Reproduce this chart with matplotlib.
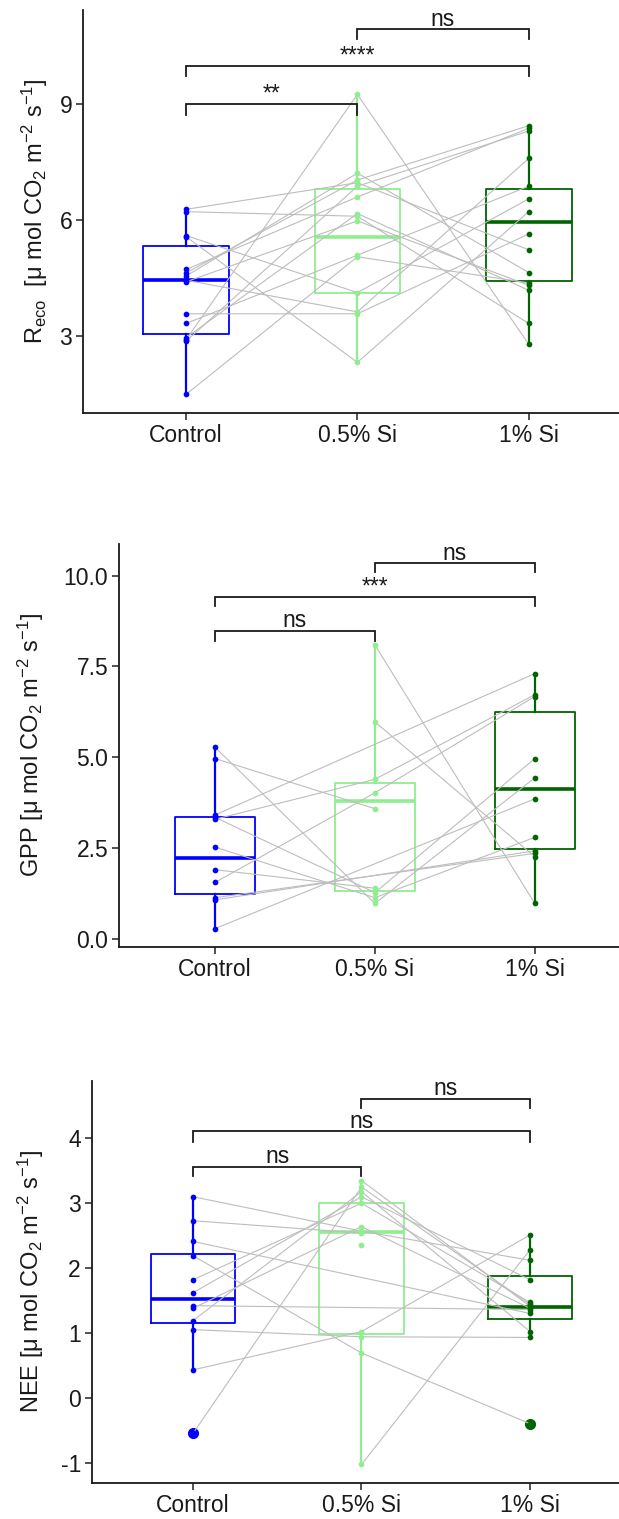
import numpy as np
import matplotlib
matplotlib.use('Agg')
import matplotlib.pyplot as plt
import matplotlib.transforms as mtransforms

plt.rcParams['font.family'] = ['Liberation Sans', 'DejaVu Sans']
plt.rcParams['mathtext.fontset'] = 'custom'
plt.rcParams['mathtext.rm'] = 'Liberation Sans'
plt.rcParams['mathtext.it'] = 'Liberation Sans:italic'
plt.rcParams['mathtext.bf'] = 'Liberation Sans:bold'

nan = np.nan
groups = ['Control', '0.5% Si', '1% Si']
group_colors = ['#0000FF', '#90EE90', '#006400']

# ---------------- Reco (paired subjects) ----------------
reco_control = [6.28, 6.22, 5.60, 5.57, 4.72, 4.63, 4.55, 4.44, 4.40, 3.57, 3.32, 2.95, 2.90, 2.86, 1.48]
reco_si05 = [6.97, 6.10, 4.12, 2.31, 6.60, 7.04, 7.22, 3.62, 5.98, 3.57, 5.09, 6.17, 9.26, 6.88, 5.05]
reco_si1 = [5.23, 3.32, 6.55, 6.22, 8.38, 8.45, 4.64, 7.60, 4.31, 5.64, 6.88, 4.18, 2.78, 8.31, 4.37]
reco_q1 = [3.05, 4.12, 4.42]
reco_med = [4.44, 5.56, 5.94]
reco_q3 = [5.33, 6.80, 6.80]
reco_ticks = [3, 6, 9]
reco_tick_labels = ['3', '6', '9']
reco_signif = ['**', '****', 'ns']

# ---------------- GPP ----------------
gpp_control = [5.27, 4.96, 3.41, 3.34, 3.29, 2.52, 1.90, 1.55, 1.13, 1.07, 0.28, nan, nan]
gpp_si05 = [0.97, 3.58, nan, 1.27, 4.39, 1.13, 1.39, 4.02, nan, nan, nan, 8.09, 5.97]
gpp_si1 = [4.43, nan, 7.30, 4.96, 6.72, 2.79, nan, 6.67, 2.35, 2.42, 3.85, 0.97, 2.26]
gpp_q1 = [1.22, 1.31, 2.46]
gpp_med = [2.21, 3.80, 4.12]
gpp_q3 = [3.34, 4.28, 6.23]
gpp_ticks = [0.0, 2.5, 5.0, 7.5, 10.0]
gpp_tick_labels = ['0.0', '2.5', '5.0', '7.5', '10.0']
gpp_signif = ['ns', '***', 'ns']

# ---------------- NEE ----------------
nee_control = [3.10, 2.73, 2.41, 2.19, 1.82, 1.62, 1.42, 1.38, 1.19, 1.05, 0.43, -0.55, nan, nan, nan]
nee_si05 = [2.57, 2.54, nan, 0.69, 3.00, 3.10, nan, 2.64, 3.18, 0.94, 1.02, 3.25, -1.03, 3.35, 2.36]
nee_si1 = [2.12, nan, 1.30, -0.40, 1.47, 1.82, 1.36, 1.38, 1.02, 0.93, 2.51, 1.44, 2.28, 1.41, nan]
nee_q1 = [1.16, 0.98, 1.21]
nee_med = [1.52, 2.56, 1.40]
nee_q3 = [2.22, 3.01, 1.87]
nee_ticks = [-1, 0, 1, 2, 3, 4]
nee_tick_labels = ['-1', '0', '1', '2', '3', '4']
nee_signif = ['ns', 'ns', 'ns']

# comparison pairs (group positions)
pairs = [(1, 2), (1, 3), (2, 3)]

W, H = 619, 1519
fig = plt.figure(figsize=(W / 100, H / 100), dpi=100)


def add_axes(left, top, bottom, right):
    return fig.add_axes([left / W, 1 - bottom / H, (right - left) / W, (bottom - top) / H])


panels = [
    dict(data=[reco_control, reco_si05, reco_si1], q1=reco_q1, med=reco_med, q3=reco_q3,
         ticks=reco_ticks, tl=reco_tick_labels, sig=reco_signif,
         ylabel=r'R$_{\mathrm{eco}}$  [$\mathrm{\mu}$ mol CO$_2$ m$^{-2}$ s$^{-1}$]',
         box=(83.3, 10, 412.5, 631.5), ylim=(1.01, 11.45),
         brackets=[(9.0, 8.72), (10.0, 9.73), (10.95, 10.71)], ylabx=35),
    dict(data=[gpp_control, gpp_si05, gpp_si1], q1=gpp_q1, med=gpp_med, q3=gpp_q3,
         ticks=gpp_ticks, tl=gpp_tick_labels, sig=gpp_signif,
         ylabel=r'GPP [$\mathrm{\mu}$ mol CO$_2$ m$^{-2}$ s$^{-1}$]',
         box=(119.3, 544, 946.7, 630.6), ylim=(-0.22, 10.87),
         brackets=[(8.48, 8.21), (9.40, 9.16), (10.34, 10.09)], ylabx=31),
    dict(data=[nee_control, nee_si05, nee_si1], q1=nee_q1, med=nee_med, q3=nee_q3,
         ticks=nee_ticks, tl=nee_tick_labels, sig=nee_signif,
         ylabel=r'NEE [$\mathrm{\mu}$ mol CO$_2$ m$^{-2}$ s$^{-1}$]',
         box=(92, 1080.7, 1483.3, 631), ylim=(-1.32, 4.89),
         brackets=[(3.56, 3.42), (4.11, 3.95), (4.61, 4.47)], ylabx=31),
]

line_grey = '#BDBDBD'
ink = '#1A1A1A'

for p in panels:
    l, t, b, r = p['box']
    ax = add_axes(l, t, b, r)
    ax.set_xlim(0.4, 3.6)
    ax.set_ylim(*p['ylim'])
    data = [np.array(d, dtype=float) for d in p['data']]
    positions = [1, 2, 3]

    # boxplots from read statistics; whiskers/outliers from data
    for i, (d, c) in enumerate(zip(data, group_colors)):
        vals = d[~np.isnan(d)]
        q1, med, q3 = p['q1'][i], p['med'][i], p['q3'][i]
        iqr = q3 - q1
        inside = vals[(vals >= q1 - 1.5 * iqr) & (vals <= q3 + 1.5 * iqr)]
        fl = vals[(vals < q1 - 1.5 * iqr) | (vals > q3 + 1.5 * iqr)]
        stats = [dict(med=med, q1=q1, q3=q3, whislo=inside.min(), whishi=inside.max(), fliers=fl)]
        ax.bxp(stats, positions=[positions[i]], widths=0.5, showcaps=False, patch_artist=False,
               boxprops=dict(color=c, linewidth=1.3),
               whiskerprops=dict(color=c, linewidth=1.6),
               medianprops=dict(color=c, linewidth=2.6, solid_capstyle='butt'),
               flierprops=dict(marker='o', markerfacecolor=c, markeredgecolor=c, markersize=7),
               zorder=2)

    # paired lines
    mat = np.vstack(data)
    for j in range(mat.shape[1]):
        col = mat[:, j]
        ok = ~np.isnan(col)
        if ok.sum() >= 2:
            ax.plot(np.array(positions)[ok], col[ok], color=line_grey, lw=0.8, zorder=3)

    # points
    for i, (d, c) in enumerate(zip(data, group_colors)):
        vals = d[~np.isnan(d)]
        ax.scatter(np.full(len(vals), positions[i]), vals, s=17, color=c, zorder=4, linewidths=0)

    # significance brackets
    for (g1, g2), (yb, yt), lab in zip(pairs, p['brackets'], p['sig']):
        ax.plot([g1, g1, g2, g2], [yt, yb, yb, yt], color=ink, lw=1.3, zorder=5,
                solid_joinstyle='miter')
        ax.annotate(lab, xy=((g1 + g2) / 2, yb), xytext=(0, 2.5), textcoords='offset points',
                    ha='center', va='baseline', fontsize=16.5, color=ink)

    ax.set_xticks(positions)
    ax.set_xticklabels(groups)
    ax.set_yticks(p['ticks'])
    ax.set_yticklabels(p['tl'])
    for s in ['top', 'right']:
        ax.spines[s].set_visible(False)
    for s in ['left', 'bottom']:
        ax.spines[s].set_linewidth(1.3)
        ax.spines[s].set_color(ink)
    ax.tick_params(axis='both', direction='out', length=5, width=1.2, color='#333333',
                   labelsize=16.5, labelcolor=ink, pad=3)
    ax.set_ylabel(p['ylabel'], fontsize=17, color=ink)
    blend = mtransforms.blended_transform_factory(fig.transFigure, ax.transAxes)
    ax.yaxis.set_label_coords(p['ylabx'] / W, 0.5, transform=blend)
    ax.yaxis.label.set_va('center')

fig.savefig('out.png', dpi=100, facecolor='white')
